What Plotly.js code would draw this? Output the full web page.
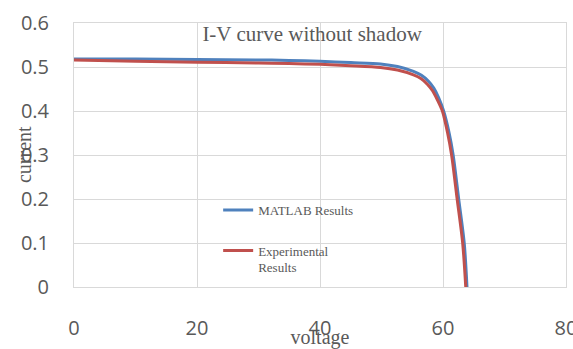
<!DOCTYPE html>
<html>
<head>
<meta charset="utf-8">
<script src="https://cdn.plot.ly/plotly-3.0.1.min.js"></script>
<style>html,body{margin:0;padding:0;background:#fff;}#chart{width:573px;height:349px;}</style>
</head>
<body>
<div id="chart"></div>
<script>
// MATLAB (simulated) I-V curve
const matlabVoltage = [0, 10, 20, 30, 35, 40, 45, 49.85, 52.6, 55.2, 56.5, 57.6, 58.5, 59.3, 60.1, 61.0, 61.65, 62.55, 63.45, 63.9];
const matlabCurrent = [0.518, 0.518, 0.517, 0.516, 0.515, 0.513, 0.510, 0.507, 0.501, 0.490, 0.481, 0.468, 0.452, 0.430, 0.400, 0.350, 0.300, 0.200, 0.100, 0.000];
// Experimental I-V curve
const expVoltage = [0, 10, 20, 30, 35, 40, 45, 49.85, 52.6, 55.2, 56.4, 57.45, 58.3, 59.1, 59.9, 60.75, 61.4, 62.3, 63.2, 63.7];
const expCurrent = [0.516, 0.513, 0.511, 0.509, 0.508, 0.506, 0.503, 0.499, 0.493, 0.482, 0.474, 0.461, 0.446, 0.425, 0.400, 0.350, 0.300, 0.200, 0.100, 0.000];
const seriesNames = ['MATLAB Results', 'Experimental<br>Results'];
const xTicks = [0, 20, 40, 60, 80];
const yTicks = [0, 0.1, 0.2, 0.3, 0.4, 0.5, 0.6];

const serif = 'Liberation Serif, Times New Roman, serif';
const sans = 'Open Sans, sans-serif';
const grey = '#595959';

const traces = [
  {x: matlabVoltage, y: matlabCurrent, type: 'scatter', mode: 'lines', name: seriesNames[0],
   line: {color: '#4F81BD', width: 3, shape: 'spline', smoothing: 0.8}, legend: 'legend'},
  {x: expVoltage, y: expCurrent, type: 'scatter', mode: 'lines', name: seriesNames[1],
   line: {color: '#C0504D', width: 3, shape: 'spline', smoothing: 0.8}, legend: 'legend2'}
];

const axisCommon = {
  showgrid: true, gridcolor: '#d9d9d9', gridwidth: 1,
  showline: true, linecolor: '#d9d9d9', linewidth: 1, mirror: true,
  zeroline: false, ticks: '', automargin: false, ticklabeloverflow: 'allow',
  tickfont: {family: sans, size: 20, color: grey}
};

const layout = {
  width: 573, height: 349,
  margin: {l: 74, r: 7, t: 23, b: 62, pad: 0},
  paper_bgcolor: '#fff', plot_bgcolor: '#fff',
  showlegend: true,
  title: {text: 'I-V curve without shadow', font: {family: serif, size: 21, color: grey},
          xref: 'paper', x: 0.484, xanchor: 'center', yref: 'container', y: 0.905, yanchor: 'middle'},
  xaxis: Object.assign({}, axisCommon, {
    range: [0, 80], tickvals: xTicks, ticktext: xTicks.map(String), ticklabelstandoff: 23,
    title: {text: 'voltage', font: {family: serif, size: 20, color: grey}, standoff: 0}
  }),
  yaxis: Object.assign({}, axisCommon, {
    range: [0, 0.6], tickvals: yTicks, ticktext: yTicks.map(String), ticklabelstandoff: 20,
    title: {text: ''}
  }),
  annotations: [{
    text: 'current', textangle: -90, showarrow: false,
    xref: 'paper', yref: 'paper', x: -0.1016, y: 0.5, xanchor: 'center', yanchor: 'middle',
    font: {family: serif, size: 20, color: grey}
  }],
  legend: {x: 0.293, y: 0.2917, xanchor: 'left', yanchor: 'middle', bgcolor: 'rgba(0,0,0,0)',
           font: {family: serif, size: 13, color: grey}},
  legend2: {x: 0.293, y: 0.195, xanchor: 'left', yanchor: 'top', valign: 'top', bgcolor: 'rgba(0,0,0,0)',
            font: {family: serif, size: 13, color: grey}}
};

Plotly.newPlot('chart', traces, layout, {displayModeBar: false, staticPlot: true});
</script>
</body>
</html>
